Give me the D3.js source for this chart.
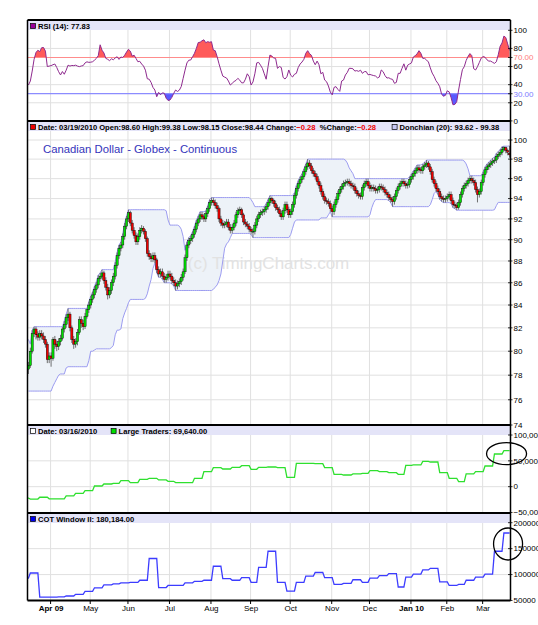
<!DOCTYPE html>
<html>
<head>
<meta charset="utf-8">
<script src="https://cdn.jsdelivr.net/npm/d3@7"></script>
<style>
  body { margin: 0; background: #fff; }
  svg { display: block; font-family: "Liberation Sans", Arial, sans-serif; }
</style>
</head>
<body>
<svg width="538" height="625"></svg>
<script>
// ---- data ----
const holidays = ["2009-04-10", "2009-05-25", "2009-07-03", "2009-09-07", "2009-11-26",
  "2009-12-25", "2010-01-01", "2010-01-18", "2010-02-15"];

// 19 sessions before the visible window (feed the Donchian channel)
const priorHighs = [81.0, 80.6, 80.2, 80.0, 79.6, 79.8, 80.1, 79.5, 79.0, 78.8, 78.5, 78.2, 77.9, 78.1, 78.4, 78.6, 78.9, 79.2, 79.0];
const priorLows = [80.1, 79.7, 79.4, 79.0, 78.8, 78.9, 79.2, 78.6, 78.1, 77.8, 77.5, 77.2, 76.7, 77.1, 77.4, 77.7, 78.0, 78.3, 78.2];

// daily sessions 03/16/2009 .. 03/19/2010
const closes = [
  78.8, 80.0, 81.5, 81.9, 81.4, 81.2, 81.5, 81.3, 81.0, 80.6,
  79.3, 79.6, 79.4, 81.0, 80.6, 80.4, 80.8, 81.1, 81.9, 82.3,
  82.9, 83.2, 82.0, 81.0, 80.6, 80.8, 81.6, 82.7, 82.4, 82.1,
  83.0, 83.6, 84.0, 84.5, 84.9, 85.4, 85.8, 86.4, 86.6, 86.9,
  86.2, 85.6, 84.9, 85.3, 86.0, 86.6, 87.6, 88.5, 89.2, 89.5,
  90.3, 91.3, 92.0, 92.6, 91.6, 90.9, 90.4, 89.8, 90.3, 90.9,
  91.1, 90.8, 90.1, 88.7, 88.4, 88.2, 88.5, 88.1, 87.2, 86.8,
  87.0, 86.6, 86.3, 86.5, 86.8, 86.6, 86.2, 86.0, 85.7, 85.9,
  86.1, 86.5, 87.0, 88.3, 89.5, 89.9, 90.1, 90.5, 91.0, 91.6,
  92.0, 92.4, 92.2, 92.0, 92.5, 93.0, 93.6, 93.8, 93.6, 93.3,
  93.0, 92.0, 91.6, 91.4, 91.5, 91.7, 91.2, 90.9, 91.2, 91.6,
  92.4, 92.8, 92.9, 92.4, 91.7, 91.5, 91.3, 91.0, 90.8, 90.8,
  91.4, 92.0, 92.4, 92.6, 92.7, 92.9, 93.2, 93.6, 94.0, 93.8,
  93.5, 93.1, 92.9, 92.5, 92.2, 92.8, 93.4, 92.9, 92.4, 92.7,
  93.4, 94.3, 95.0, 95.5, 95.9, 96.2, 96.7, 97.2, 97.6, 97.3,
  96.8, 96.5, 96.2, 95.7, 95.3, 94.7, 94.2, 93.8, 93.7, 93.5,
  93.0, 92.7, 93.4, 93.9, 94.5, 94.9, 95.2, 95.5, 95.6, 95.7,
  95.5, 95.3, 95.2, 94.8, 94.5, 94.3, 94.2, 95.1, 95.5, 95.7,
  95.3, 95.0, 95.1, 95.0, 94.8, 94.9, 95.2, 95.1, 94.9, 94.6,
  94.4, 94.1, 93.9, 93.7, 94.2, 94.8, 95.2, 95.5, 95.7, 95.5,
  95.3, 95.4, 95.9, 96.2, 96.5, 96.8, 97.1, 96.9, 96.8, 97.2,
  97.4, 97.6, 97.2, 96.7, 95.9, 95.5, 95.0, 94.7, 94.2, 94.0,
  93.9, 94.0, 94.2, 94.4, 93.8, 93.4, 93.3, 93.1, 93.6, 94.4,
  95.0, 95.3, 95.5, 95.8, 96.0, 95.8, 95.6, 94.9, 94.4, 94.7,
  95.6, 96.4, 96.9, 97.2, 97.4, 97.6, 97.8, 97.9, 98.3, 98.5,
  98.7, 99.0, 99.2, 98.9, 98.72, 98.44
];
const highs = [
  79.1, 80.3, 81.8, 82.1, 82.1, 81.7, 81.8, 81.8, 81.6, 81.3,
  80.8, 79.9, 79.9, 81.2, 81.3, 80.9, 81.1, 81.4, 82.1, 82.6,
  83.2, 83.7, 83.4, 82.2, 81.3, 81.1, 81.9, 83.0, 83.0, 82.7,
  83.3, 83.7, 84.3, 84.8, 85.2, 85.7, 86.1, 86.7, 86.9, 87.2,
  87.1, 86.5, 85.9, 85.6, 86.3, 86.9, 87.9, 88.8, 89.5, 89.8,
  90.6, 91.6, 92.3, 92.9, 92.8, 91.9, 91.2, 90.7, 90.6, 91.2,
  91.4, 91.3, 91.0, 90.3, 89.0, 88.7, 88.8, 88.8, 88.3, 87.5,
  87.3, 87.3, 86.9, 86.8, 87.1, 87.1, 86.9, 86.5, 86.3, 86.2,
  86.4, 86.8, 87.3, 88.6, 89.8, 90.2, 90.4, 90.8, 91.3, 91.9,
  92.3, 92.7, 92.7, 92.5, 92.8, 93.3, 93.9, 94.1, 94.1, 93.9,
  93.6, 93.2, 92.3, 91.9, 91.8, 92.0, 92.0, 91.5, 91.5, 91.9,
  92.7, 93.1, 93.2, 93.1, 92.6, 92.0, 91.8, 91.6, 91.2, 91.1,
  91.7, 92.3, 92.7, 92.9, 93.0, 93.2, 93.5, 93.9, 94.3, 94.2,
  94.0, 93.8, 93.4, 93.2, 92.8, 93.1, 93.7, 93.7, 93.2, 93.0,
  93.7, 94.6, 95.3, 95.8, 96.2, 96.5, 97.0, 97.5, 98.0, 97.9,
  97.6, 97.1, 96.8, 96.5, 96.0, 95.6, 95.0, 94.5, 94.1, 94.0,
  93.8, 93.3, 93.7, 94.2, 94.8, 95.2, 95.5, 95.8, 95.9, 96.0,
  96.0, 95.8, 95.6, 95.5, 95.1, 94.8, 94.6, 95.4, 95.8, 96.0,
  96.0, 95.6, 95.4, 95.4, 95.3, 95.2, 95.5, 95.5, 95.4, 95.2,
  94.9, 94.7, 94.4, 94.2, 94.5, 95.1, 95.5, 95.8, 96.0, 96.0,
  95.8, 95.7, 96.2, 96.5, 96.8, 97.1, 97.4, 97.4, 97.2, 97.5,
  97.7, 97.9, 97.8, 97.5, 97.0, 96.2, 95.8, 95.3, 95.0, 94.5,
  94.3, 94.3, 94.5, 94.7, 94.7, 94.1, 93.7, 93.6, 93.9, 94.7,
  95.3, 95.6, 95.8, 96.1, 96.3, 96.3, 96.1, 95.9, 95.2, 95.0,
  95.9, 96.7, 97.2, 97.5, 97.7, 97.9, 98.1, 98.2, 98.6, 98.8,
  99.0, 99.3, 99.35, 99.3, 99.1, 99.38
];
const lows = [
  78.1, 78.6, 79.8, 81.2, 81.0, 80.9, 80.9, 81.0, 80.7, 80.3,
  79.0, 79.0, 78.7, 79.2, 80.2, 80.0, 80.1, 80.5, 80.9, 81.6,
  82.0, 82.6, 81.7, 80.7, 80.2, 80.3, 80.5, 81.4, 82.0, 81.8,
  81.9, 82.8, 83.3, 83.7, 84.2, 84.6, 85.1, 85.5, 86.1, 86.3,
  85.9, 85.3, 84.5, 84.6, 85.0, 85.7, 86.3, 87.3, 88.2, 88.9,
  89.2, 90.0, 91.0, 91.7, 91.3, 90.6, 90.1, 89.5, 89.5, 90.0,
  90.6, 90.5, 89.8, 88.4, 88.1, 87.9, 87.9, 87.8, 86.9, 86.5,
  86.5, 86.3, 86.0, 86.0, 86.2, 86.3, 85.9, 85.7, 85.3, 85.4,
  85.6, 85.8, 86.2, 86.8, 88.0, 89.2, 89.6, 89.8, 90.2, 90.7,
  91.3, 91.7, 91.9, 91.7, 91.7, 92.2, 92.7, 93.3, 93.3, 93.0,
  92.7, 91.7, 91.3, 91.1, 91.1, 91.2, 90.9, 90.6, 90.6, 90.9,
  91.3, 92.1, 92.5, 92.1, 91.4, 91.2, 91.0, 90.7, 90.5, 90.2,
  90.5, 91.1, 91.7, 92.1, 92.3, 92.4, 92.6, 92.9, 93.3, 93.5,
  93.2, 92.8, 92.6, 92.2, 91.9, 91.9, 92.5, 92.6, 92.1, 92.1,
  92.4, 93.1, 94.0, 94.7, 95.2, 95.6, 95.9, 96.4, 96.9, 97.0,
  96.5, 96.2, 95.9, 95.4, 95.0, 94.4, 93.9, 93.5, 93.4, 93.2,
  92.7, 92.2, 92.4, 93.1, 93.6, 94.2, 94.6, 94.9, 95.2, 95.3,
  95.2, 95.0, 94.9, 94.5, 94.2, 94.0, 93.9, 93.9, 94.8, 95.2,
  95.0, 94.7, 94.7, 94.7, 94.5, 94.5, 94.6, 94.8, 94.6, 94.3,
  94.1, 93.8, 93.6, 93.2, 93.4, 93.9, 94.5, 94.9, 95.2, 95.2,
  95.0, 95.0, 95.1, 95.6, 95.9, 96.2, 96.5, 96.6, 96.5, 96.5,
  96.9, 97.1, 96.9, 96.4, 95.6, 95.2, 94.7, 94.4, 93.9, 93.7,
  93.6, 93.6, 93.7, 93.9, 93.5, 93.1, 93.0, 92.85, 92.9, 93.3,
  94.1, 94.7, 95.0, 95.2, 95.5, 95.5, 95.3, 94.6, 93.62, 94.1,
  94.4, 95.3, 96.1, 96.6, 96.9, 97.1, 97.3, 97.5, 97.6, 98.0,
  98.2, 98.4, 98.8, 98.6, 98.4, 98.15
];
const firstOpen = 78.5;
const lastOpen = 98.60;
const lastChange = -0.28;
const lastPctChange = -0.28;

const rsi = [
  39.6, 44, 55, 68, 75.5, 78, 76.4, 80.8, 81, 77,
  60, 60.5, 61, 62, 62.8, 59, 54.3, 50.7, 54.5, 51.5,
  56, 61.5, 60.5, 61.2, 61, 61.5, 60.5, 59.9, 60.6, 61,
  64, 65.2, 64.6, 64.8, 65.3, 67, 69, 72, 84, 78,
  75, 69, 68, 66.5, 68.5, 67.5, 69.5, 70.8, 67.9, 70.5,
  70, 72.5, 76, 79, 77, 71.5, 72.5, 69, 65.3, 65.8,
  62.8, 60.5, 56, 46.5, 46, 42.5, 37, 34.1, 26.7, 31.5,
  28.8, 31, 30.5, 25, 22.6, 23, 26, 30.4, 34.1, 32.5,
  34, 38, 47, 56, 64, 67, 67.2, 70.8, 74.6, 80,
  86.5, 86.8, 88.5, 89.5, 86.3, 87.5, 86.8, 87.4, 78.2, 77.5,
  71, 63, 56, 49.5, 48.3, 47.3, 44, 39.6, 41.5, 43.5,
  44.7, 47, 45, 42, 42, 46, 52, 48.8, 39.6, 43,
  52, 64, 64.6, 61.5, 58, 52, 46, 59.9, 72.7, 71.5,
  69.5, 69, 58, 60, 59, 48, 46.2, 48.8, 56.2, 50.4,
  48.5, 51.5, 52.5, 59, 62.8, 65, 68, 74.6, 77.5, 74.2,
  72.4, 66, 62, 66, 62, 52, 53.6, 45.1, 43.3, 38.5,
  31.8, 28.8, 37, 37.8, 34.8, 32.6, 44, 45.1, 50.7, 53.5,
  58, 58, 57.5, 55, 55.5, 54.7, 56, 52.5, 54.3, 54.5,
  50.9, 51.3, 50.6, 50, 49.5, 47.5, 48.5, 56.2, 54.3, 50,
  47.3, 47.6, 46.4, 45.8, 41.5, 42.5, 52.5, 52.5, 58, 63,
  56, 61.5, 62.8, 64, 70.5, 72, 74, 77.5, 74.6, 69,
  69, 67.2, 65, 58.5, 52.8, 49.2, 44.4, 41.5, 37.7, 29.3,
  27.3, 28.2, 33.2, 32, 25.7, 17.8, 18.2, 21.2, 34.1, 45.8,
  56.5, 59.9, 66.7, 71.2, 74.3, 72, 57.6, 56.2, 59.9, 64.6,
  69.4, 71, 70.3, 67.5, 66, 66, 64.7, 63.5, 65.3, 73,
  82.3, 86, 93.6, 92, 85, 77.83
];

// weekly COT positions, Tuesdays 03/10/2009 .. 03/16/2010
const cotFirst = "2009-03-10";
const largeTraders = [
  -22000, -24000, -20500, -23500, -23500, -18000, -12900, -7700, 1300, 5200,
  6500, 11700, 7800, 14200, 16200, 13000, 10400, 7800, 7800, 16200,
  29000, 36800, 34200, 37500, 40700, 33600, 37500, 38100, 36800, 18000,
  45200, 45200, 44500, 36800, 23900, 22600, 24600, 25800, 31000, 29000,
  27100, 23900, 41300, 42000, 49000, 47700, 27100, 16200, 9700, 24600,
  29000, 40000, 63200, 69640
];
const cotWindow = [
  93000, 103000, 56700, 56700, 56900, 58700, 62000, 67500, 74500, 80000,
  82000, 84000, 85000, 89000, 131000, 75000, 79000, 79000, 84000, 87000,
  89000, 116000, 92000, 89000, 94000, 85000, 114000, 145000, 85000, 68000,
  85000, 97000, 104000, 94000, 81000, 83000, 90000, 85000, 93000, 98000,
  102000, 76000, 95000, 101000, 109000, 112000, 86000, 79000, 81000, 89000,
  95000, 101000, 145000, 180184
];

const monthLabels = ["Apr 09", "May", "Jun", "Jul", "Aug", "Sep", "Oct", "Nov", "Dec", "Jan 10", "Feb", "Mar"];
const rsiTicks = [0, 20, 40, 60, 80, 100];
const priceTicks = [74, 76, 78, 80, 82, 84, 86, 88, 90, 92, 94, 96, 98, 100];
const ltTicks = [100000, 50000, 0, -50000];
const cotTicks = [200000, 150000, 100000, 50000];

// ---- calendar ----
const parse = d3.timeParse("%Y-%m-%d");
const ymd = d3.timeFormat("%Y-%m-%d");
const mdy = d3.timeFormat("%m/%d/%Y");
const off = new Set(holidays);
const days = d3.timeDay.range(parse("2009-02-17"), parse("2010-03-20"))
  .filter(d => d.getDay() > 0 && d.getDay() < 6 && !off.has(ymd(d)));
const pre = priorHighs.length;
const last = days.length - 1;

const bars = closes.map((c, j) => ({
  i: pre + j,
  open: j === 0 ? firstOpen : (j === closes.length - 1 ? lastOpen : closes[j - 1]),
  close: c, high: highs[j], low: lows[j]
}));

const allHighs = priorHighs.concat(highs);
const allLows = priorLows.concat(lows);
const donchian = bars.map(b => ({
  i: b.i,
  upper: d3.max(allHighs.slice(b.i - 19, b.i + 1)),
  lower: d3.min(allLows.slice(b.i - 19, b.i + 1))
}));

const weekDates = d3.timeTuesday.range(parse(cotFirst), parse("2010-03-17"));
const weekIdx = weekDates.map(d => days.findIndex(t => +t === +d));

// ---- layout ----
const svg = d3.select("svg");
const L = 27.5, R = 510.5;
const panes = {
  rsi: { top: 20, bottom: 121 },
  price: { top: 121, bottom: 425 },
  lt: { top: 425, bottom: 513 },
  cot: { top: 513, bottom: 600.5 }
};
const HEAD = 10;

const x = d3.scaleLinear().domain([pre - 0.5, days.length - 0.5]).range([L, R]);
const yR = d3.scaleLinear().domain([0, 100]).range([120.9, 30.3]);
const yP = d3.scaleLog().domain([74, 100]).range([425, 140]);
const yL = d3.scaleLinear().domain([-50000, 100000]).range([512.5, 435]);
const yC = d3.scaleLinear().domain([50000, 200000]).range([600.5, 522.7]);

const monthIdx = d3.timeMonth.range(parse("2009-04-01"), parse("2010-04-01"))
  .map(m => days.findIndex(d => d >= m));

const defs = svg.append("defs");
Object.entries(panes).forEach(([k, p]) => {
  defs.append("clipPath").attr("id", "clip-" + k)
    .append("rect").attr("x", L).attr("y", p.top + HEAD)
    .attr("width", R - L).attr("height", p.bottom - p.top - HEAD);
});
defs.append("clipPath").attr("id", "clip-hi").append("rect")
  .attr("x", L).attr("y", panes.rsi.top).attr("width", R - L).attr("height", yR(70) - panes.rsi.top);
defs.append("clipPath").attr("id", "clip-lo").append("rect")
  .attr("x", L).attr("y", yR(30)).attr("width", R - L).attr("height", panes.rsi.bottom - yR(30));

// grid
function grid(p, y, vals) {
  const g = svg.append("g").attr("stroke", "#e0e0e0").attr("stroke-width", 1);
  g.selectAll("line.v").data(monthIdx).join("line")
    .attr("x1", d => x(d) - 0.5).attr("x2", d => x(d) - 0.5)
    .attr("y1", p.top + HEAD).attr("y2", p.bottom);
  g.selectAll("line.h").data(vals.filter(v => y(v) > p.top + HEAD + 1 && y(v) < p.bottom - 1)).join("line")
    .attr("x1", L).attr("x2", R).attr("y1", d => y(d)).attr("y2", d => y(d));
}
grid(panes.rsi, yR, [20, 40, 60, 80]);
grid(panes.price, yP, priceTicks);
grid(panes.lt, yL, ltTicks);
grid(panes.cot, yC, cotTicks);

// ---- RSI ----
const rsiG = svg.append("g").attr("clip-path", "url(#clip-rsi)");
const rx = (d, j) => x(pre + j);
rsiG.append("path").datum(rsi).attr("clip-path", "url(#clip-hi)")
  .attr("fill", "#ff5a5a").attr("d", d3.area().x(rx).y0(yR(70)).y1(d => yR(d)));
rsiG.append("path").datum(rsi).attr("clip-path", "url(#clip-lo)")
  .attr("fill", "#5a5aff").attr("d", d3.area().x(rx).y0(yR(30)).y1(d => yR(d)));
rsiG.append("line").attr("x1", L).attr("x2", R).attr("y1", yR(70)).attr("y2", yR(70))
  .attr("stroke", "#ff8c8c").attr("stroke-width", 1.2);
rsiG.append("line").attr("x1", L).attr("x2", R).attr("y1", yR(30)).attr("y2", yR(30))
  .attr("stroke", "#8c8cff").attr("stroke-width", 1.2);
rsiG.append("path").datum(rsi).attr("fill", "none").attr("stroke", "#8e2a8e").attr("stroke-width", 1)
  .attr("d", d3.line().x(rx).y(d => yR(d)));

// ---- price ----
const pg = svg.append("g").attr("clip-path", "url(#clip-price)");
pg.append("path").datum(donchian).attr("fill", "#edf2f8")
  .attr("d", d3.area().x(d => x(d.i)).y0(d => yP(d.lower)).y1(d => yP(d.upper)));
pg.append("text").attr("x", 268.5).attr("y", 269).attr("text-anchor", "middle")
  .attr("font-size", 17).attr("fill", "#e2e2e2").text("(c) TimingCharts.com");
["upper", "lower"].forEach(k => {
  pg.append("path").datum(donchian).attr("fill", "none").attr("stroke", "#9c9cf0").attr("stroke-width", 1)
    .attr("d", d3.line().x(d => x(d.i)).y(d => yP(d[k])));
});
pg.selectAll("line.wick").data(bars).join("line")
  .attr("x1", d => x(d.i)).attr("x2", d => x(d.i))
  .attr("y1", d => yP(d.high)).attr("y2", d => yP(d.low))
  .attr("stroke", "#606060").attr("stroke-width", 0.9);
pg.selectAll("rect.body").data(bars).join("rect")
  .attr("x", d => x(d.i) - 1.1).attr("width", 2.2)
  .attr("y", d => yP(Math.max(d.open, d.close)))
  .attr("height", d => Math.max(0.8, Math.abs(yP(d.open) - yP(d.close))))
  .attr("fill", d => d.close >= d.open ? "#00e000" : "#ee0000")
  .attr("stroke", "#000").attr("stroke-width", 0.4);
svg.append("text").attr("x", 43).attr("y", 153).attr("font-size", 11.3).attr("fill", "#3434bb")
  .text("Canadian Dollar - Globex - Continuous");

// ---- COT panels ----
function stepPoints(vals) {
  const pts = [];
  vals.forEach((v, k) => {
    const a = weekIdx[k];
    const b = k < vals.length - 1 ? weekIdx[k + 1] - 1 : last;
    pts.push([a, v], [b, v]);
  });
  return pts;
}
svg.append("g").attr("clip-path", "url(#clip-lt)").append("path")
  .datum(stepPoints(largeTraders)).attr("fill", "none").attr("stroke", "#2ee02e").attr("stroke-width", 1.3)
  .attr("d", d3.line().x(d => x(d[0])).y(d => yL(d[1])));
svg.append("g").attr("clip-path", "url(#clip-cot)").append("path")
  .datum(stepPoints(cotWindow)).attr("fill", "none").attr("stroke", "#3c3cff").attr("stroke-width", 1.3)
  .attr("d", d3.line().x(d => x(d[0])).y(d => yC(d[1])));

// ---- headers ----
function header(p, parts) {
  svg.append("rect").attr("x", L).attr("y", p.top + 1).attr("width", R - L).attr("height", HEAD - 1)
    .attr("fill", "#e4e4f8");
  let cx = L + 3;
  parts.forEach(part => {
    if (part.box) {
      svg.append("rect").attr("x", cx).attr("y", p.top + 3.5).attr("width", 5).attr("height", 5)
        .attr("fill", part.box).attr("stroke", "#000").attr("stroke-width", 0.7);
      cx += 7.5;
    } else {
      const t = svg.append("text").attr("x", cx).attr("y", p.top + 8.6)
        .attr("font-size", 7.6).attr("font-weight", "bold").attr("fill", part.color || "#000")
        .text(part.text);
      cx += t.node().getComputedTextLength() + (part.gap || 0);
    }
  });
}
const f2 = d3.format(".2f");
const fc = d3.format(",.2f");
const lastBar = bars[bars.length - 1];
const dc = donchian[donchian.length - 1];
const sp = "\u00a0";
header(panes.rsi, [{ box: "#990099" }, { text: `RSI (14): ${f2(rsi[rsi.length - 1])}` }]);
header(panes.price, [
  { box: "#ee0000" },
  { text: `Date: ${mdy(days[last])}${sp}Open:${f2(lastBar.open)}${sp}High:${f2(lastBar.high)}${sp}Low:${f2(lastBar.low)}${sp}Close:${f2(lastBar.close)}${sp}Change:` },
  { text: f2(lastChange), color: "#ee0000" },
  { text: `${sp}${sp}%Change:` },
  { text: f2(lastPctChange), color: "#ee0000", gap: 16 },
  { box: "#c8c8f4" },
  { text: `Donchian (20): ${f2(dc.lower)} - ${f2(dc.upper)}` }
]);
header(panes.lt, [
  { box: "#ffffff" },
  { text: `Date: ${mdy(weekDates[weekDates.length - 1])}`, gap: 14 },
  { box: "#00dd00" },
  { text: `Large Traders: ${fc(largeTraders[largeTraders.length - 1])}` }
]);
header(panes.cot, [{ box: "#0000ee" }, { text: `COT Window II: ${fc(cotWindow[cotWindow.length - 1])}` }]);

// ---- right axes ----
function rightAxis(y, vals, fmt, color) {
  const g = svg.append("g");
  vals.forEach(v => {
    g.append("line").attr("x1", R - 2.5).attr("x2", R + 2).attr("y1", y(v)).attr("y2", y(v))
      .attr("stroke", "#000").attr("stroke-width", 0.8);
    g.append("text").attr("x", R + 3).attr("y", y(v)).attr("dy", "0.35em")
      .attr("font-size", 8).attr("fill", color || "#000").text(fmt(v));
  });
}
rightAxis(yR, rsiTicks, d3.format("d"));
rightAxis(yR, [70], f2, "#ff7c7c");
rightAxis(yR, [30], f2, "#7c7cff");
rightAxis(yP, priceTicks, d3.format("d"));
rightAxis(yL, ltTicks, d3.format(",d"));
rightAxis(yC, cotTicks, d3.format("d"));

// ---- frame ----
const frame = svg.append("g").attr("stroke", "#000");
[panes.rsi.top, panes.rsi.bottom, panes.price.bottom, panes.lt.bottom, panes.cot.bottom].forEach(yy => {
  frame.append("line").attr("x1", L).attr("x2", R).attr("y1", yy).attr("y2", yy).attr("stroke-width", 1.8);
});
[L, R].forEach(xx => {
  frame.append("line").attr("x1", xx).attr("x2", xx).attr("y1", panes.rsi.top).attr("y2", panes.cot.bottom)
    .attr("stroke-width", 1.5);
});

// ---- month axis ----
const mg = svg.append("g");
monthIdx.forEach((m, k) => {
  mg.append("line").attr("x1", x(m) - 0.5).attr("x2", x(m) - 0.5)
    .attr("y1", panes.cot.bottom).attr("y2", panes.cot.bottom + 3.5).attr("stroke", "#000");
  mg.append("text").attr("x", x(m)).attr("y", 611).attr("text-anchor", "middle").attr("font-size", 8)
    .attr("font-weight", monthLabels[k].includes(" ") ? "bold" : "normal").text(monthLabels[k]);
});

// ---- annotations ----
svg.append("ellipse").attr("cx", x(last) - 3).attr("cy", yL(largeTraders[largeTraders.length - 1]) + 3)
  .attr("rx", 20).attr("ry", 11).attr("fill", "none").attr("stroke", "#000").attr("stroke-width", 1.3);
svg.append("ellipse").attr("cx", x(last) - 1.5).attr("cy", yC(cotWindow[cotWindow.length - 1]) + 11)
  .attr("rx", 14.5).attr("ry", 16).attr("fill", "none").attr("stroke", "#000").attr("stroke-width", 1.3);
</script>
</body>
</html>
